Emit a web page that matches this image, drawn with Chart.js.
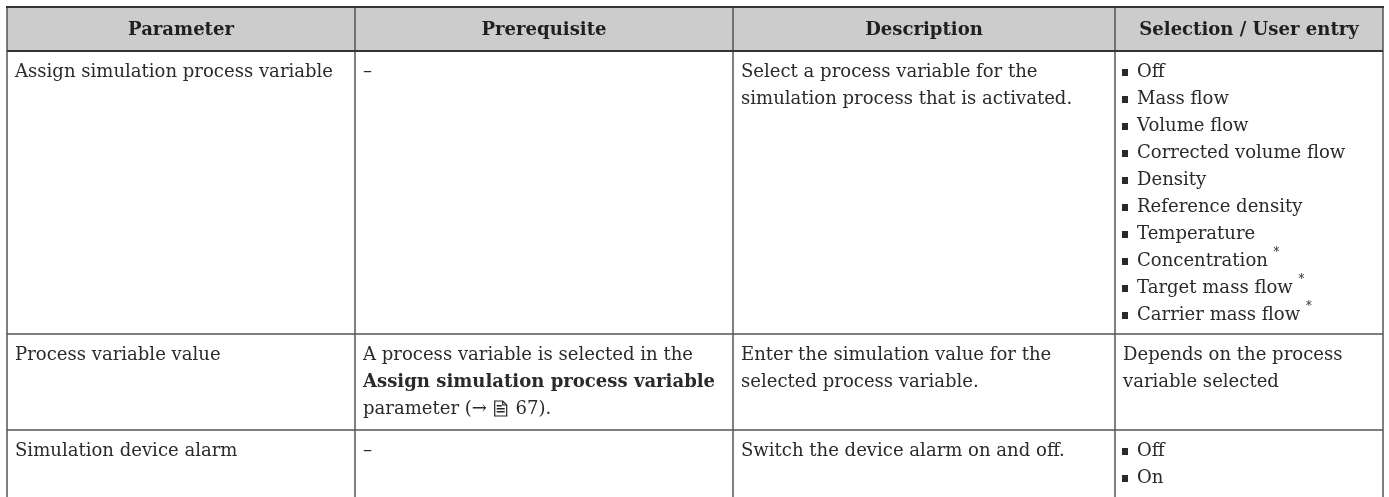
<!DOCTYPE html>
<html>
<head>
<meta charset="utf-8">
<script src="https://cdn.jsdelivr.net/npm/chart.js@4/dist/chart.umd.min.js"></script>
<style>
  html, body { margin: 0; background: #fff; }
  #wrap { width: 1389px; height: 497px; }
</style>
</head>
<body>
<div id="wrap"><canvas id="tableChart"></canvas></div>
<script>
// Table content, one array per column (lines as they wrap in the picture)
const headers = ['Parameter', 'Prerequisite', 'Description', 'Selection / User entry'];
const parameters = [
  ['Assign simulation process variable'],
  ['Process variable value'],
  ['Simulation device alarm']
];
const prerequisites = [
  ['–'],
  ['A process variable is selected in the', '<b>Assign simulation process variable</b>', 'parameter (→ <page> 67).'],
  ['–']
];
const descriptions = [
  ['Select a process variable for the', 'simulation process that is activated.'],
  ['Enter the simulation value for the', 'selected process variable.'],
  ['Switch the device alarm on and off.']
];
const selections = [
  ['• Off', '• Mass flow', '• Volume flow', '• Corrected volume flow', '• Density',
   '• Reference density', '• Temperature', '• Concentration <sup>*</sup>',
   '• Target mass flow <sup>*</sup>', '• Carrier mass flow <sup>*</sup>'],
  ['Depends on the process', 'variable selected'],
  ['• Off', '• On']
];

// layout of the grid (in canvas units, mapped through the chart scales)
const colEdges = [7, 355, 733, 1115, 1383];
const rowEdges = [7, 51, 334, 430, 497];
const lineHeight = 27;
const firstLine = 21;
const padX = 8;
const FONT = '"DejaVu Serif", serif';
const fontSize = 19;
const squeeze = 0.95; // condense the glyphs a bit

function drawPageIcon(ctx, x, y) {
  ctx.save();
  ctx.strokeStyle = '#222';
  ctx.lineWidth = 1.2;
  const l = x + 2, t = y - 8, w = 12, h = 15;
  ctx.beginPath();
  ctx.moveTo(l, t);
  ctx.lineTo(l + w - 4, t);
  ctx.lineTo(l + w, t + 4);
  ctx.lineTo(l + w, t + h);
  ctx.lineTo(l, t + h);
  ctx.closePath();
  ctx.stroke();
  ctx.beginPath();
  ctx.moveTo(l + w - 4, t); ctx.lineTo(l + w - 4, t + 4); ctx.lineTo(l + w, t + 4);
  ctx.stroke();
  ctx.fillStyle = '#222';
  ctx.fillRect(l + 2, t + 4, 5, 1.5);
  ctx.fillRect(l + 2, t + 7, 8, 1.5);
  ctx.fillRect(l + 2, t + 10, 8, 1.5);
  ctx.restore();
  return 17;
}

function drawLine(ctx, str, x, y, bold) {
  let b = bold, sup = false;
  const parts = str.split(/(<\/?b>|<\/?sup>|<page>)/);
  for (const p of parts) {
    if (!p) continue;
    if (p === '<b>') { b = true; continue; }
    if (p === '</b>') { b = false; continue; }
    if (p === '<sup>') { sup = true; continue; }
    if (p === '</sup>') { sup = false; continue; }
    if (p === '<page>') { x += drawPageIcon(ctx, x, y); continue; }
    ctx.font = (b ? 'bold ' : '') + (sup ? 12 : fontSize) + 'px ' + FONT;
    ctx.save();
    ctx.translate(x, sup ? y - 8 : y);
    ctx.scale(squeeze, 1);
    ctx.fillText(p, 0, 0);
    ctx.restore();
    x += ctx.measureText(p).width * squeeze;
  }
}

function lineWidth(ctx, str, bold) {
  ctx.font = (bold ? 'bold ' : '') + fontSize + 'px ' + FONT;
  return ctx.measureText(str).width * squeeze;
}

function drawCell(ctx, lines, x0, top) {
  lines.forEach((ln, i) => {
    const y = top + firstLine + i * lineHeight;
    if (ln.startsWith('• ')) {
      ctx.fillRect(x0 + 7, y - 3, 6, 7);
      drawLine(ctx, ln.slice(2), x0 + 22, y, false);
    } else {
      drawLine(ctx, ln, x0 + padX, y, false);
    }
  });
}

const tablePlugin = {
  id: 'tableDraw',
  afterDraw(chart) {
    const { ctx, scales } = chart;
    const X = v => scales.x.getPixelForValue(v);
    const Y = v => scales.y.getPixelForValue(v);
    const cx = colEdges.map(X);
    const ry = rowEdges.map(Y);

    ctx.save();
    // header band
    ctx.fillStyle = '#cccccc';
    ctx.fillRect(cx[0], ry[0], cx[4] - cx[0], ry[1] - ry[0]);

    ctx.textBaseline = 'middle';
    ctx.fillStyle = '#1f1f1f';
    headers.forEach((h, c) => {
      const w = lineWidth(ctx, h, true);
      drawLine(ctx, h, (cx[c] + cx[c + 1]) / 2 - w / 2, (ry[0] + ry[1]) / 2 + 1, true);
    });

    ctx.fillStyle = '#2a2a2a';
    const columns = [parameters, prerequisites, descriptions, selections];
    columns.forEach((col, c) => {
      col.forEach((lines, r) => drawCell(ctx, lines, cx[c], ry[r + 1]));
    });

    // grid lines
    ctx.strokeStyle = '#555';
    ctx.lineWidth = 1.5;
    for (let r = 2; r < ry.length - 1; r++) {
      ctx.beginPath(); ctx.moveTo(cx[0], ry[r]); ctx.lineTo(cx[4], ry[r]); ctx.stroke();
    }
    cx.forEach(x => {
      ctx.beginPath(); ctx.moveTo(x, ry[0]); ctx.lineTo(x, ry[4]); ctx.stroke();
    });
    ctx.strokeStyle = '#333';
    ctx.lineWidth = 2;
    ctx.beginPath(); ctx.moveTo(cx[0] - 1, ry[0]); ctx.lineTo(cx[4] + 1, ry[0]); ctx.stroke();
    ctx.beginPath(); ctx.moveTo(cx[0], ry[1]); ctx.lineTo(cx[4], ry[1]); ctx.stroke();
    ctx.restore();
  }
};

new Chart(document.getElementById('tableChart'), {
  type: 'scatter',
  data: { datasets: [] },
  options: {
    responsive: true,
    maintainAspectRatio: false,
    animation: false,
    layout: { padding: 0 },
    plugins: { legend: { display: false }, tooltip: { enabled: false } },
    scales: {
      x: { type: 'linear', min: 0, max: 1389, display: false },
      y: { type: 'linear', min: 0, max: 497, reverse: true, display: false }
    }
  },
  plugins: [tablePlugin]
});
</script>
</body>
</html>
